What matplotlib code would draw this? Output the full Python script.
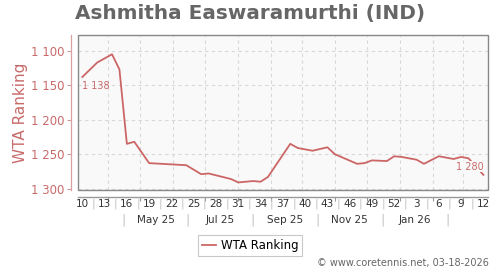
import matplotlib
matplotlib.use("Agg")
import matplotlib.pyplot as plt
import matplotlib.transforms as mtransforms
from matplotlib.patches import Rectangle
from matplotlib.lines import Line2D
from datetime import datetime

# ---- data ----
week_offset = [0, 2, 4, 5, 6, 7, 9, 14, 16, 17, 20, 21, 23, 24, 25, 28, 29,
               31, 33, 34, 37, 38, 39, 41, 42, 43, 44, 45, 46, 48, 50, 51, 52, 54]
ranking = [1138, 1117, 1105, 1127, 1235, 1232, 1263, 1266, 1279, 1278, 1286,
           1291, 1289, 1290, 1283, 1235, 1241, 1245, 1240, 1250, 1264, 1263,
           1259, 1260, 1253, 1254, 1256, 1258, 1264, 1253, 1257, 1254, 1256, 1280]
week_labels = ["10", "13", "16", "19", "22", "25", "28", "31", "34", "37", "40",
               "43", "46", "49", "52", "3", "6", "9", "12"]
month_labels = ["May 25", "Jul 25", "Sep 25", "Nov 25", "Jan 26"]
y_ticks = [1100, 1150, 1200, 1250, 1300]
title = "Ashmitha Easwaramurthi (IND)"
series_name = "WTA Ranking"
credit = "\u00a9 www.coretennis.net, 03-18-2026"

ref = datetime(2025, 3, 7, 12)


def day(d):
    return (d - ref).total_seconds() / 86400.0


x_days = [7 * w for w in week_offset]

RED = "#cc6666"
RED_TXT = "#c86a6a"
GREY = "#666666"

W, H = 500, 270
fig = plt.figure(figsize=(5, 2.7), dpi=100)
fig.patch.set_facecolor("white")
ax = fig.add_axes([78 / W, 1 - 190 / H, 410 / W, 155 / H])
ax.set_facecolor("#f9f9f9")

ax.plot(x_days, ranking, color=RED, lw=1.3, solid_joinstyle="round", zorder=3)

ax.set_ylim(1302, 1077)
ax.set_xlim(-4.05, -4.05 + 410 / 1.061)

# y axis
ax.set_yticks(y_ticks)
ax.set_yticklabels([f"{v:,}".replace(",", " ") for v in y_ticks])
ax.tick_params(axis="y", colors="#d09a9a", labelcolor=RED_TXT, length=3,
               width=0.8, labelsize=8.5, pad=2)
ax.spines["left"].set_position(("outward", 5))
ax.spines["left"].set_color("#dba0a0")
ax.spines["left"].set_linewidth(0.9)

# x axis: month ticks / gridlines
month_starts = [day(datetime(2025 + (m - 1) // 12, (m - 1) % 12 + 1, 1))
                for m in range(4, 16)]
ax.set_xticks(month_starts)
ax.set_xticklabels([])
ax.tick_params(axis="x", colors="#999999", length=3, width=0.8)
ax.spines["bottom"].set_position(("outward", 5))
ax.spines["bottom"].set_color("#999999")
ax.spines["bottom"].set_linewidth(1.0)
ax.spines["top"].set_visible(False)
ax.spines["right"].set_visible(False)

ax.grid(True, color="#d8d8d8", lw=0.8, ls=(0, (3, 3)), zorder=0)
ax.set_axisbelow(True)

# frame around plot area
ax.add_patch(Rectangle((0, 0), 1, 1, transform=ax.transAxes, fill=False,
                       ec="#888888", lw=1.0, clip_on=False, zorder=5))

trans = mtransforms.blended_transform_factory(ax.transData, ax.transAxes)
row1 = (190 - 204) / 155
row2 = (190 - 220) / 155
week_pos = [7 * 3 * i for i in range(len(week_labels))]
for xp, lab in zip(week_pos, week_labels):
    ax.text(xp, row1, lab, transform=trans, ha="center", va="center",
            fontsize=7.5, color="#333333", clip_on=False)
for a, b in zip(week_pos[:-1], week_pos[1:]):
    ax.text((a + b) / 2, row1, "|", transform=trans, ha="center", va="center",
            fontsize=8, color="#c0c0c0", clip_on=False)

seps = [day(datetime(2025 + (m - 1) // 12, (m - 1) % 12 + 1, 15))
        for m in range(4, 16, 2)]
for s in seps:
    ax.text(s, row2, "|", transform=trans, ha="center", va="center",
            fontsize=9, color="#c0c0c0", clip_on=False)
for a, b, lab in zip(seps[:-1], seps[1:], month_labels):
    ax.text((a + b) / 2, row2, lab, transform=trans, ha="center", va="center",
            fontsize=7.5, color="#333333", clip_on=False)

# data labels
ax.annotate(f"{ranking[0]:,}".replace(",", " "), (x_days[0], ranking[0]),
            xytext=(0, -6.2), textcoords="offset points", ha="left", va="center",
            fontsize=7, color=RED_TXT, zorder=6)
ax.annotate(f"{ranking[-1]:,}".replace(",", " "), (x_days[-1], ranking[-1]),
            xytext=(0.5, 6.0), textcoords="offset points", ha="right", va="center",
            fontsize=7, color=RED_TXT, zorder=6,
            bbox=dict(boxstyle="square,pad=0.1", fc="#f9f9f9", ec="none"))

# texts
fig.text(0.5, 1 - 14 / H, title, ha="center", va="center", fontsize=14.4,
         fontweight="bold", color=GREY)
fig.text(21 / W, 1 - 112.5 / H, series_name, rotation=90, ha="center",
         va="center", fontsize=11, color=RED_TXT)
fig.text(489 / W, 1 - 263 / H, credit, ha="right", va="center", fontsize=7,
         color=GREY)

handle = Line2D([], [], color=RED, lw=1.3)
leg = fig.legend([handle], [series_name], loc="center",
                 bbox_to_anchor=(250 / W, 1 - 245.5 / H), fontsize=8.5,
                 frameon=True, fancybox=False, edgecolor="#bbbbbb",
                 handlelength=1.2, handletextpad=0.4, borderpad=0.35)
leg.get_frame().set_linewidth(0.8)

fig.savefig("out.png", dpi=100)
